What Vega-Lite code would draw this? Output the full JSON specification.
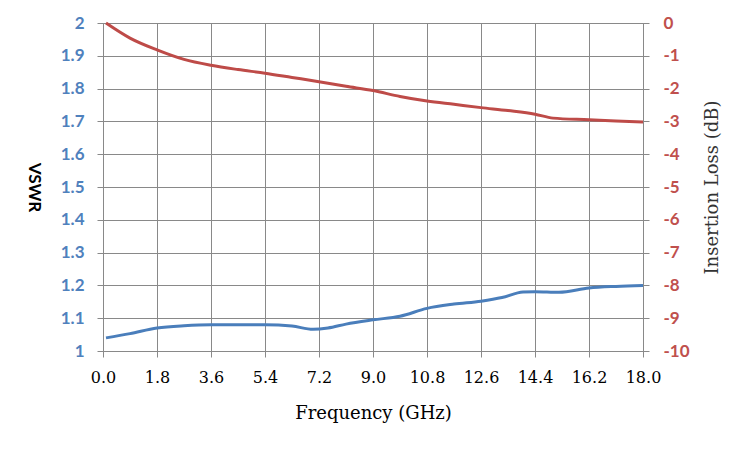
{
  "$schema": "https://vega.github.io/schema/vega-lite/v6.json",
  "autosize": "none",
  "width": 540,
  "height": 328,
  "padding": {"left": 103, "top": 23, "right": 107, "bottom": 99},
  "background": "white",
  "config": {
    "view": {"stroke": "#898989", "strokeWidth": 1}
  },
  "datasets": {
    "vswr": [
      {"f": 0.1, "v": 1.04},
      {"f": 0.9, "v": 1.053},
      {"f": 1.8, "v": 1.07},
      {"f": 2.7, "v": 1.077},
      {"f": 3.6, "v": 1.08},
      {"f": 4.5, "v": 1.08},
      {"f": 5.4, "v": 1.08},
      {"f": 6.3, "v": 1.076},
      {"f": 7.0, "v": 1.066},
      {"f": 7.5, "v": 1.07},
      {"f": 8.1, "v": 1.082},
      {"f": 9.0, "v": 1.095},
      {"f": 9.9, "v": 1.106},
      {"f": 10.8, "v": 1.13},
      {"f": 11.7, "v": 1.143},
      {"f": 12.6, "v": 1.152},
      {"f": 13.3, "v": 1.163},
      {"f": 14.0, "v": 1.18},
      {"f": 14.4, "v": 1.181},
      {"f": 15.2, "v": 1.179},
      {"f": 16.2, "v": 1.192},
      {"f": 17.1, "v": 1.197},
      {"f": 18.0, "v": 1.2}
    ],
    "loss": [
      {"f": 0.1, "il": 0},
      {"f": 0.9, "il": -0.46},
      {"f": 1.8, "il": -0.82},
      {"f": 2.7, "il": -1.11},
      {"f": 3.6, "il": -1.29},
      {"f": 4.5, "il": -1.42},
      {"f": 5.4, "il": -1.53},
      {"f": 6.3, "il": -1.66},
      {"f": 7.2, "il": -1.79},
      {"f": 8.1, "il": -1.93},
      {"f": 9.0, "il": -2.06},
      {"f": 9.9, "il": -2.24},
      {"f": 10.8, "il": -2.38},
      {"f": 11.7, "il": -2.48},
      {"f": 12.6, "il": -2.58},
      {"f": 13.5, "il": -2.67},
      {"f": 14.4, "il": -2.78},
      {"f": 15.0, "il": -2.9},
      {"f": 16.2, "il": -2.95},
      {"f": 17.1, "il": -2.99},
      {"f": 18.0, "il": -3.02}
    ]
  },
  "encoding": {
    "x": {
      "field": "f",
      "type": "quantitative",
      "scale": {"domain": [0, 18], "nice": false, "zero": false},
      "axis": {
        "values": [0, 1.8, 3.6, 5.4, 7.2, 9.0, 10.8, 12.6, 14.4, 16.2, 18.0],
        "format": ".1f",
        "title": "Frequency (GHz)",
        "titleFont": "DejaVu Serif",
        "titleFontSize": 18,
        "titleFontWeight": "normal",
        "titleColor": "#000000",
        "titlePadding": 19,
        "labelFont": "DejaVu Serif",
        "labelFontSize": 16,
        "labelColor": "#000000",
        "labelPadding": 12,
        "labelFlush": false,
        "grid": true,
        "gridColor": "#898989",
        "gridOpacity": 1,
        "domain": false,
        "tickColor": "#898989",
        "tickSize": 6
      }
    }
  },
  "layer": [
    {
      "data": {"name": "vswr"},
      "mark": {"type": "line", "color": "#4A7EBB", "strokeWidth": 3, "interpolate": "monotone"},
      "encoding": {
        "y": {
          "field": "v",
          "type": "quantitative",
          "scale": {"domain": [1, 2], "nice": false, "zero": false},
          "axis": {
            "orient": "left",
            "values": [1, 1.1, 1.2, 1.3, 1.4, 1.5, 1.6, 1.7, 1.8, 1.9, 2],
            "labelExpr": "datum.value == 1 || datum.value == 2 ? format(datum.value, 'd') : format(datum.value, '.1f')",
            "title": "VSWR",
            "titleAngle": 90,
            "titleFont": "Lato",
            "titleFontSize": 17,
            "titleFontWeight": "bold",
            "titleColor": "#000000",
            "titlePadding": 36,
            "labelFont": "Lato",
            "labelFontSize": 17,
            "labelFontWeight": "bold",
            "labelColor": "#4F81BD",
            "labelPadding": 13,
            "labelFlush": false,
            "grid": true,
            "gridColor": "#898989",
            "gridOpacity": 1,
            "domain": false,
            "tickColor": "#898989",
            "tickSize": 6
          }
        }
      }
    },
    {
      "data": {"name": "loss"},
      "mark": {"type": "line", "color": "#BE4B48", "strokeWidth": 3, "interpolate": "monotone"},
      "encoding": {
        "y": {
          "field": "il",
          "type": "quantitative",
          "scale": {"domain": [-10, 0], "nice": false, "zero": false},
          "axis": {
            "orient": "right",
            "values": [0, -1, -2, -3, -4, -5, -6, -7, -8, -9, -10],
            "labelExpr": "'' + datum.value",
            "title": "Insertion Loss (dB)",
            "titleAngle": -90,
            "titleFont": "DejaVu Serif",
            "titleFontSize": 18,
            "titleFontWeight": "normal",
            "titleColor": "#333333",
            "titlePadding": 32,
            "labelFont": "Lato",
            "labelFontSize": 17,
            "labelFontWeight": "bold",
            "labelColor": "#C0504D",
            "labelPadding": 14,
            "labelFlush": false,
            "grid": false,
            "domain": false,
            "tickColor": "#898989",
            "tickSize": 6
          }
        }
      }
    }
  ],
  "resolve": {"scale": {"y": "independent"}}
}
